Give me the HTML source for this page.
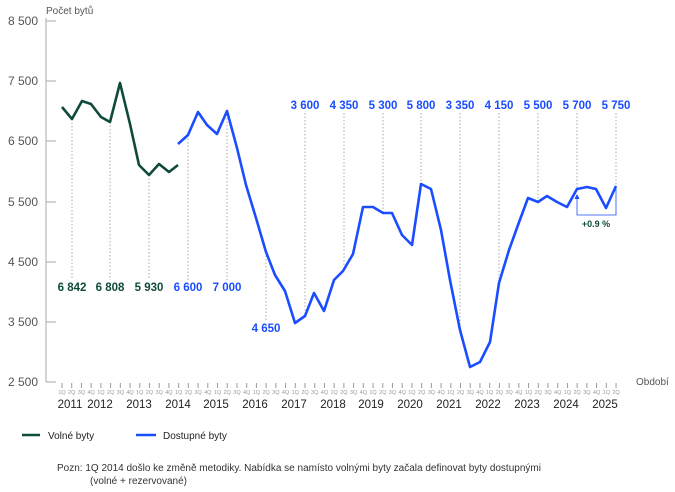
<!DOCTYPE html>
<html><head><meta charset="utf-8"><style>
html,body{margin:0;padding:0;background:#fff;}
svg{display:block;font-family:"Liberation Sans",sans-serif;}
</style></head><body>
<svg width="675" height="492" viewBox="0 0 675 492">
<g font-size="12" fill="#555" text-anchor="end">
<text x="38" y="25">8 500</text><text x="38" y="85">7 500</text><text x="38" y="145">6 500</text>
<text x="38" y="206">5 500</text><text x="38" y="266">4 500</text><text x="38" y="326">3 500</text><text x="38" y="386">2 500</text>
</g>
<g stroke="#aaa" stroke-width="1">
<line x1="46" y1="18" x2="46" y2="382"/>
<line x1="46" y1="21" x2="56" y2="21"/><line x1="46" y1="81" x2="56" y2="81"/><line x1="46" y1="141" x2="56" y2="141"/>
<line x1="46" y1="202" x2="56" y2="202"/><line x1="46" y1="262" x2="56" y2="262"/><line x1="46" y1="322" x2="56" y2="322"/><line x1="46" y1="382" x2="56" y2="382"/>
</g>
<text x="46" y="14" font-size="10" fill="#555">Počet bytů</text>
<text x="636" y="385" font-size="10" fill="#555">Období</text>
<g id="ticks" stroke="#999" stroke-width="1"></g>
<g id="ql" font-size="5.5" fill="#999" text-anchor="middle"></g>
<g font-size="11.5" fill="#222" text-anchor="middle">
<text x="70" y="408">2011</text><text x="100" y="408">2012</text><text x="139" y="408">2013</text><text x="178" y="408">2014</text><text x="216" y="408">2015</text><text x="255" y="408">2016</text><text x="294" y="408">2017</text><text x="333" y="408">2018</text><text x="371" y="408">2019</text><text x="410" y="408">2020</text><text x="449" y="408">2021</text><text x="488" y="408">2022</text><text x="527" y="408">2023</text><text x="566" y="408">2024</text><text x="605" y="408">2025</text>
</g>
<g stroke="#aaa" stroke-width="1" stroke-dasharray="1.5,2">
<line x1="72" y1="119" x2="72" y2="280"/><line x1="110" y1="122" x2="110" y2="280"/><line x1="149" y1="175" x2="149" y2="280"/>
<line x1="188" y1="135" x2="188" y2="280"/><line x1="227" y1="111" x2="227" y2="280"/><line x1="266" y1="252" x2="266" y2="320"/>
<line x1="305" y1="113" x2="305" y2="316"/><line x1="344" y1="113" x2="344" y2="271"/><line x1="383" y1="113" x2="383" y2="213"/>
<line x1="421" y1="113" x2="421" y2="184"/><line x1="460" y1="113" x2="460" y2="330"/><line x1="499" y1="113" x2="499" y2="283"/>
<line x1="538" y1="113" x2="538" y2="202"/><line x1="577" y1="113" x2="577" y2="189"/><line x1="616" y1="113" x2="616" y2="186"/>
</g>
<polyline fill="none" stroke="#0f4a3c" stroke-width="2.6" stroke-linejoin="round" points="62,107 72,119 82,101 91,104 101,117 110,122 120,83 130,124 139,165 149,175 159,164 169,172 178,165"/>
<polyline fill="none" stroke="#1a4dff" stroke-width="2.6" stroke-linejoin="round" points="178,144 188,135 198,112 207,125 217,134 227,111 237,148 246,185 256,218 266,252 275,275 285,291 295,323 305,316 314,293 324,311 334,280 343,271 353,254 363,207 373,207 383,213 392,213 402,235 412,245 421,184 431,189 441,230 450,280 460,330 470,367 480,362 490,342 499,283 509,250 518,225 528,198 538,202 547,196 557,202 567,207 577,189 587,187 596,189 606,208 616,186"/>
<g font-size="11.5" font-weight="bold" text-anchor="middle">
<g fill="#0f4a3c"><text x="72" y="291">6 842</text><text x="110" y="291">6 808</text><text x="149" y="291">5 930</text></g>
<g fill="#1a4dff"><text x="188" y="291">6 600</text><text x="227" y="291">7 000</text><text x="266" y="332">4 650</text>
<text x="305" y="109">3 600</text><text x="344" y="109">4 350</text><text x="383" y="109">5 300</text><text x="421" y="109">5 800</text><text x="460" y="109">3 350</text><text x="499" y="109">4 150</text><text x="538" y="109">5 500</text><text x="577" y="109">5 700</text><text x="616" y="109">5 750</text></g>
</g>
<g stroke="#1a4dff" stroke-width="0.8" fill="none">
<polyline points="577,197 577,215 616,215 616,188"/>
</g>
<polygon points="577,194 574.5,199 579.5,199" fill="#1a4dff"/>
<text x="596" y="227" font-size="9" font-weight="bold" fill="#0f4a3c" text-anchor="middle">+0.9 %</text>
<line x1="22" y1="435" x2="40" y2="435" stroke="#0f4a3c" stroke-width="2.6"/>
<text x="48" y="439" font-size="10" fill="#222">Volné byty</text>
<line x1="136" y1="435" x2="156" y2="435" stroke="#1a4dff" stroke-width="2.6"/>
<text x="163" y="439" font-size="10" fill="#222">Dostupné byty</text>
<text x="57" y="471" font-size="10" fill="#333">Pozn: 1Q 2014 došlo ke změně metodiky. Nabídka se namísto volnými byty začala definovat byty dostupnými</text>
<text x="90" y="484" font-size="10" fill="#333">(volné + rezervované)</text>
<script>
(function(){var t=document.getElementById('ticks'),q=document.getElementById('ql'),ns='http://www.w3.org/2000/svg';
for(var i=0;i<58;i++){var x=62+i*9.72;var l=document.createElementNS(ns,'line');l.setAttribute('x1',x);l.setAttribute('x2',x);l.setAttribute('y1',383);l.setAttribute('y2',388);t.appendChild(l);
var s=document.createElementNS(ns,'text');s.setAttribute('x',x);s.setAttribute('y',394);s.textContent=(i%4+1)+'Q';q.appendChild(s);}
})();
</script>
</svg>
</body></html>
